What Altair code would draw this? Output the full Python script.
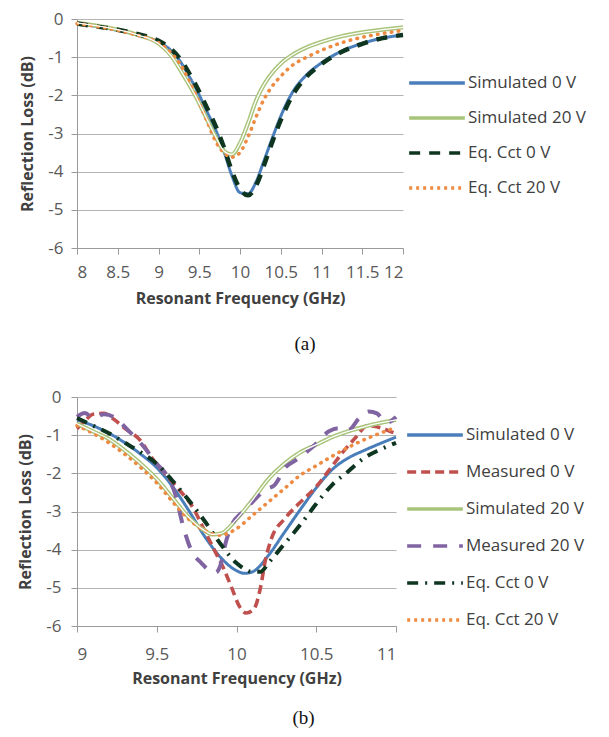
import altair as alt
import pandas as pd

# ---------------- panel (a) ----------------
a_freq = [8, 8.25, 8.5, 8.75, 9, 9.15, 9.3, 9.37, 9.45, 9.6, 9.7, 9.8, 9.9, 10, 10.1,
          10.2, 10.3, 10.4, 10.5, 10.65, 10.8, 11, 11.25, 11.5, 11.75, 12]
a_sim0 = [-0.12, -0.2, -0.3, -0.42, -0.6, -0.82, -1.22, -1.48, -1.78, -2.45, -2.9, -3.45, -4.1, -4.55, -4.58,
          -4.25, -3.68, -3.1, -2.55, -1.9, -1.5, -1.15, -0.84, -0.64, -0.5, -0.42]
a_sim20 = [-0.1, -0.18, -0.28, -0.42, -0.64, -0.95, -1.45, -1.7, -2.0, -2.65, -3.08, -3.45, -3.55, -3.25, -2.72,
           -2.12, -1.7, -1.4, -1.17, -0.93, -0.76, -0.6, -0.45, -0.35, -0.28, -0.22]
a_eq0 = [-0.12, -0.2, -0.28, -0.4, -0.57, -0.78, -1.15, -1.4, -1.7, -2.35, -2.8, -3.35, -3.98, -4.45, -4.62,
         -4.35, -3.8, -3.2, -2.65, -1.98, -1.55, -1.18, -0.86, -0.65, -0.5, -0.42]
a_eq20 = [-0.12, -0.2, -0.3, -0.43, -0.62, -0.88, -1.3, -1.6, -1.95, -2.7, -3.2, -3.5, -3.62, -3.5, -3.08,
          -2.55, -2.08, -1.75, -1.5, -1.2, -1.02, -0.82, -0.62, -0.48, -0.38, -0.3]
a_names = ["Simulated 0 V", "Simulated 20 V", "Eq. Cct 0 V", "Eq. Cct 20 V"]
a_xticks = [8, 8.5, 9, 9.5, 10, 10.5, 11, 11.5, 12]

# ---------------- panel (b) ----------------
b_sim0_f = [9, 9.1, 9.2, 9.3, 9.4, 9.5, 9.6, 9.7, 9.8, 9.9, 10, 10.05, 10.1, 10.2, 10.3,
            10.4, 10.5, 10.6, 10.7, 10.8, 10.9, 11]
b_sim0 = [-0.6, -0.75, -0.95, -1.2, -1.5, -1.85, -2.35, -2.97, -3.65, -4.2, -4.55, -4.62, -4.58, -4.15, -3.55,
          -2.95, -2.38, -1.9, -1.6, -1.4, -1.22, -1.05]
b_meas0_f = [9.0, 9.05, 9.1, 9.17, 9.23, 9.3, 9.4, 9.47, 9.55, 9.63, 9.72, 9.8, 9.86, 9.92, 9.97, 10.02,
             10.06, 10.11, 10.15, 10.18, 10.22, 10.3, 10.39, 10.5, 10.58, 10.66, 10.75, 10.82, 10.88, 10.95, 11.0]
b_meas0 = [-0.83, -0.62, -0.45, -0.43, -0.58, -0.82, -1.15, -1.6, -2.0, -2.38, -2.85, -3.5, -4.0, -4.5, -5.0, -5.5,
           -5.66, -5.55, -5.0, -4.3, -3.7, -3.2, -2.8, -2.35, -1.92, -1.48, -1.05, -0.75, -0.78, -0.88, -0.96]
b_sim20_f = [9, 9.1, 9.2, 9.3, 9.4, 9.5, 9.6, 9.7, 9.8, 9.85, 9.9, 10, 10.1, 10.2, 10.3, 10.4,
             10.5, 10.6, 10.7, 10.8, 10.9, 11]
b_sim20 = [-0.7, -0.9, -1.1, -1.4, -1.75, -2.15, -2.65, -3.15, -3.5, -3.6, -3.58, -3.2, -2.7, -2.15, -1.75, -1.45,
           -1.25, -1.05, -0.9, -0.78, -0.68, -0.6]
b_meas20_f = [9.0, 9.05, 9.1, 9.17, 9.23, 9.32, 9.42, 9.5, 9.57, 9.62, 9.66, 9.72, 9.78, 9.83, 9.87, 9.9,
              9.93, 9.97, 10.03, 10.1, 10.18, 10.24, 10.31, 10.37, 10.48, 10.58, 10.64, 10.7, 10.77, 10.83,
              10.88, 10.94, 11.0]
b_meas20 = [-0.52, -0.42, -0.55, -0.45, -0.52, -0.87, -1.31, -1.75, -2.1, -2.6, -3.3, -4.05, -4.35, -4.55, -4.6, -4.4,
            -3.85, -3.35, -3.04, -2.75, -2.43, -2.3, -1.83, -1.66, -1.3, -0.9, -0.82, -0.87, -0.55, -0.38,
            -0.43, -0.68, -0.52]
b_eq0_f = [9, 9.1, 9.2, 9.3, 9.4, 9.5, 9.6, 9.7, 9.8, 9.9, 10, 10.1, 10.15, 10.2, 10.3, 10.4,
           10.5, 10.6, 10.7, 10.8, 10.9, 11]
b_eq0 = [-0.55, -0.75, -0.95, -1.2, -1.45, -1.75, -2.2, -2.7, -3.25, -3.85, -4.35, -4.58, -4.58, -4.35, -3.85, -3.35,
         -2.8, -2.3, -1.95, -1.6, -1.38, -1.2]
b_eq20_f = [9, 9.1, 9.2, 9.3, 9.4, 9.5, 9.6, 9.7, 9.8, 9.9, 10, 10.1, 10.2, 10.3, 10.4, 10.5,
            10.6, 10.7, 10.8, 10.9, 11]
b_eq20 = [-0.75, -0.95, -1.2, -1.5, -1.85, -2.25, -2.75, -3.2, -3.5, -3.62, -3.45, -3.1, -2.75, -2.4, -2.05, -1.8,
          -1.55, -1.32, -1.12, -0.95, -0.8]
b_names = ["Simulated 0 V", "Measured 0 V", "Simulated 20 V", "Measured 20 V", "Eq. Cct 0 V", "Eq. Cct 20 V"]
b_xticks = [9, 9.5, 10, 10.5, 11]

y_ticks = [0, -1, -2, -3, -4, -5, -6]

BLUE = "#4a7ebb"
GREEN = "#a8c47a"
DKGREEN = "#0e3520"
ORANGE = "#ee8b43"
RED = "#c0504d"
PURPLE = "#8064a2"
FONT = "Open Sans"


def frame(pairs):
    rows = []
    for name, fs, vs in pairs:
        for f, v in zip(fs, vs):
            rows.append({"series": name, "freq": f, "rl": v})
    return pd.DataFrame(rows)


df_a = frame([("Simulated 0 V", a_freq, a_sim0), ("Simulated 20 V", a_freq, a_sim20),
              ("Eq. Cct 0 V", a_freq, a_eq0), ("Eq. Cct 20 V", a_freq, a_eq20)])
df_b = frame([("Simulated 0 V", b_sim0_f, b_sim0), ("Measured 0 V", b_meas0_f, b_meas0),
              ("Simulated 20 V", b_sim20_f, b_sim20), ("Measured 20 V", b_meas20_f, b_meas20),
              ("Eq. Cct 0 V", b_eq0_f, b_eq0), ("Eq. Cct 20 V", b_eq20_f, b_eq20)])


def panel(df, names, colors, dashes, styles, xdom, xticks, w, caption, cap_dx, lx, ly, row_pad,
          lab_pad, title_pad, cap_off, ylab_pad):
    legend = alt.Legend(title=None, orient="none", legendX=lx, legendY=ly, rowPadding=row_pad)
    x = alt.X("freq:Q", scale=alt.Scale(domain=xdom, nice=False, zero=False),
              axis=alt.Axis(values=xticks, labelExpr="'' + datum.value",
                            title="Resonant Frequency (GHz)", labelPadding=lab_pad,
                            titlePadding=title_pad, grid=False))
    y = alt.Y("rl:Q", scale=alt.Scale(domain=[-6, 0], nice=False, zero=False),
              axis=alt.Axis(values=y_ticks, labelExpr="'' + datum.value",
                            title="Reflection Loss (dB)", grid=True, labelPadding=ylab_pad))
    color = alt.Color("series:N", scale=alt.Scale(domain=names, range=colors), legend=legend)
    dash = alt.StrokeDash("series:N", scale=alt.Scale(domain=names, range=dashes), legend=legend)
    layers = []
    for name, (wdt, own_dash) in zip(names, styles):
        base = alt.Chart(df).transform_filter(alt.datum.series == name)
        if own_dash is None:
            layers.append(base.mark_line(interpolate="monotone", strokeWidth=wdt)
                          .encode(x=x, y=y, color=color, strokeDash=dash))
        else:
            layers.append(base.mark_line(interpolate="monotone", strokeWidth=wdt,
                                         strokeDash=own_dash, strokeCap="round")
                          .encode(x=x, y=y, color=color))
    white = (alt.Chart(df).transform_filter(alt.datum.series == "Simulated 20 V")
             .mark_line(interpolate="monotone", strokeWidth=1.3, color="white")
             .encode(x=x, y=y))
    layers.append(white)
    return alt.layer(*layers).properties(
        width=w, height=229,
        title=alt.TitleParams(caption, orient="bottom", anchor="middle", frame="group",
                              font="Liberation Serif", fontSize=19, fontWeight="normal",
                              color="#111111", offset=cap_off, dx=cap_dx))


top = panel(df_a, a_names,
            [BLUE, GREEN, DKGREEN, ORANGE],
            [[1, 0], [1, 0], [11, 9], [3, 4]],
            [(3, None), (4.2, None), (4.5, None), (3.6, [0.5, 6.5])],
            [8, 12], a_xticks, 326, "(a)", 65, 330, 56, 18, 10, 10, 29, 8)

bottom = panel(df_b, b_names,
               [BLUE, RED, GREEN, PURPLE, DKGREEN, ORANGE],
               [[1, 0], [9, 5], [1, 0], [14, 12], [11, 7, 2, 7], [3, 4]],
               [(3, None), (3.6, None), (4.2, None), (4, None), (4, None), (3.6, [0.5, 6.5])],
               [9, 11], b_xticks, 319, "(b)", 67, 328, 30, 20, 14, 8, 23, 10)

chart = alt.vconcat(top, bottom, spacing=34).resolve_scale(
    color="independent", strokeDash="independent"
).resolve_legend(
    color="independent", strokeDash="independent"
).properties(
    padding={"left": 9, "top": 2, "right": 5, "bottom": 5}
).configure_view(stroke=None).configure_axis(
    labelFont=FONT, labelFontSize=17, labelColor="#595959",
    titleFont=FONT, titleFontSize=16, titleFontWeight="bold", titleColor="#404040",
    domainColor="#9a9a9a", tickColor="#9a9a9a", tickSize=6, gridColor="#b4b4b4",
).configure_axisY(titlePadding=12).configure_legend(
    symbolType="stroke", symbolSize=3100, symbolStrokeWidth=3.5,
    labelFont=FONT, labelFontSize=17, labelColor="#404040", labelOffset=1,
    clipHeight=16, labelLimit=300,
)

chart.save("out.html", embed_options={"renderer": "svg", "actions": False})
